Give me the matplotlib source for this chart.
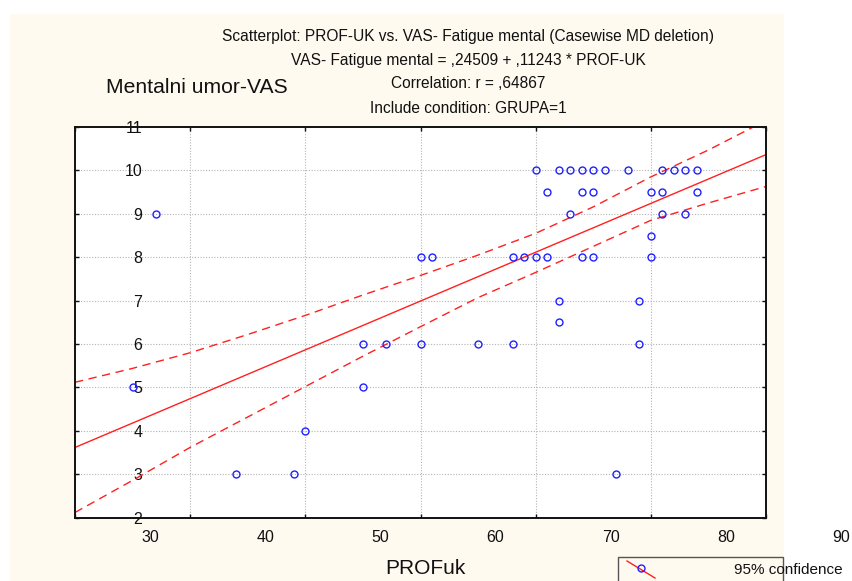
import numpy as np
import matplotlib.pyplot as plt
from matplotlib.patches import Rectangle
from matplotlib.lines import Line2D
from matplotlib.transforms import ScaledTranslation

plt.rcParams['font.family'] = ['Liberation Sans', 'DejaVu Sans']

# PROF-UK score vs. mental fatigue (VAS), group 1
prof_uk = [70, 72, 73, 74, 75, 76, 78, 81, 82, 83, 84,
           71, 74, 75, 80, 81, 84,
           37, 73, 81, 83,
           80,
           60, 61, 68, 69, 70, 71, 74, 75, 80,
           72, 79,
           72,
           55, 57, 60, 65, 68, 79,
           35, 55,
           50,
           44, 49, 77]
vas_mental = [10] * 11 + [9.5] * 6 + [9] * 4 + [8.5] + [8] * 9 + [7] * 2 + [6.5] \
    + [6] * 6 + [5] * 2 + [4] + [3] * 3

# fitted line  VAS = a + b * PROF-UK
intercept = 0.24509
slope = 0.11243

# 95% confidence band of the fit
band_x = [30, 35, 40, 45, 50, 55, 60, 65, 70, 75, 80, 85, 90]
band_upper = [5.12, 5.44, 5.80, 6.22, 6.66, 7.13, 7.58, 8.05, 8.55, 9.16, 9.85, 10.47, 11.15]
band_lower = [2.12, 2.86, 3.62, 4.32, 5.02, 5.72, 6.40, 7.07, 7.65, 8.25, 8.85, 9.25, 9.63]

x_ticks = [30, 40, 50, 60, 70, 80, 90]
y_ticks = [2, 3, 4, 5, 6, 7, 8, 9, 10, 11]

W, H = 852, 581
fig = plt.figure(figsize=(W / 100, H / 100), dpi=100)
fig.patch.set_facecolor('white')


def fx(px):
    return px / W


def fy(py):
    return 1 - py / H


# cream panel behind everything
fig.add_artist(Rectangle((fx(10), 0), fx(784) - fx(10), fy(14), transform=fig.transFigure,
                         facecolor='#FFFAF0', edgecolor='none', zorder=0))

ax = fig.add_axes([fx(75), fy(517.7), fx(766) - fx(75), fy(127) - fy(517.7)])
ax.set_facecolor('white')
ax.set_xlim(x_ticks[0], x_ticks[-1])
ax.set_ylim(y_ticks[0], y_ticks[-1])

# grid only on inner lines
for gx in x_ticks[1:-1]:
    ax.axvline(gx, color='#b4b4b4', lw=0.8, ls=(0, (1, 1.5)), zorder=1)
for gy in y_ticks[1:-1]:
    ax.axhline(gy, color='#b4b4b4', lw=0.8, ls=(0, (1, 1.5)), zorder=1)

# regression line over the whole x range, then the band
xs = np.array([x_ticks[0], x_ticks[-1]], dtype=float)
ax.plot(xs, intercept + slope * xs, color='#ff2020', lw=1.0, zorder=3)
ax.plot(band_x, band_upper, color='#ff2020', lw=1.0, ls=(0, (6, 4)), zorder=3)
ax.plot(band_x, band_lower, color='#ff2020', lw=1.0, ls=(0, (6, 4)), zorder=3)

ax.plot(prof_uk, vas_mental, 'o', ms=5.0, mfc='none', mec='#2020ff', mew=1.0,
        zorder=4, clip_on=False)

for side in ['left', 'right', 'top', 'bottom']:
    ax.spines[side].set_color('#111111')
    ax.spines[side].set_linewidth(1.4)
    ax.spines[side].set_zorder(5)

ax.set_xticks(x_ticks)
ax.set_yticks(y_ticks)
ax.set_xticklabels([str(v) for v in x_ticks])
ax.set_yticklabels([str(v) for v in y_ticks])
ax.tick_params(direction='in', length=3, width=1, top=True, right=True,
               labelsize=11.5, colors='#111111')
ax.tick_params(axis='x', pad=9)
ax.tick_params(axis='y', pad=2)

# labels sit shifted to the right of their positions
shift_x = ScaledTranslation(0.75, 0, fig.dpi_scale_trans)
for lab in ax.get_xticklabels():
    lab.set_transform(lab.get_transform() + shift_x)
shift_y = ScaledTranslation(0.70, 0, fig.dpi_scale_trans)
for lab in ax.get_yticklabels():
    lab.set_transform(lab.get_transform() + shift_y)

# titles
title_lines = [
    ('Scatterplot: PROF-UK vs. VAS- Fatigue mental (Casewise MD deletion)', 36.3),
    ('VAS- Fatigue mental = ,24509 + ,11243 * PROF-UK', 61),
    ('Correlation: r = ,64867', 84),
    ('Include condition: GRUPA=1', 108),
]
for txt, py in title_lines:
    fig.text(fx(468), fy(py), txt, ha='center', va='center', fontsize=11.2, color='#111111')

fig.text(fx(106), fy(87), 'Mentalni umor-VAS', ha='left', va='center', fontsize=15.2,
         color='#111111')
fig.text(fx(385), fy(569), 'PROFuk', ha='left', va='center', fontsize=15, color='#111111')

# legend box
fig.add_artist(Rectangle((fx(618), fy(590)), fx(783) - fx(618), fy(557) - fy(590),
                         transform=fig.transFigure, facecolor='none', edgecolor='#555555',
                         lw=1.0, zorder=6))
fig.add_artist(Line2D([fx(627), fx(655)], [fy(561), fy(578)], transform=fig.transFigure,
                      color='#ff2020', lw=1.0, zorder=7))
fig.add_artist(Line2D([fx(641)], [fy(568)], transform=fig.transFigure, marker='o', ms=5.0,
                      mfc='none', mec='#2020ff', mew=1.0, zorder=8))
fig.text(fx(734), fy(570), '95% confidence', ha='left', va='center', fontsize=11,
         color='#111111', zorder=9)

fig.savefig('out.png', dpi=100)
